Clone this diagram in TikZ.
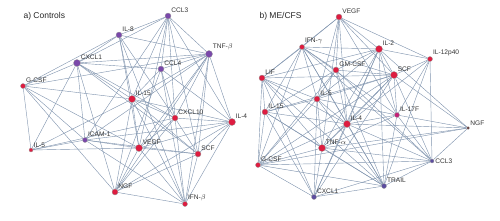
\documentclass[tikz,border=0pt]{standalone}
\usepackage{fontspec}
\setmainfont{Liberation Sans}
\usepackage{xcolor}
\usetikzlibrary{backgrounds}

\definecolor{cytred}{RGB}{222,28,64}
\definecolor{cytpurple}{RGB}{122,72,170}
\definecolor{cytblue}{RGB}{92,76,160}
\definecolor{cytmag}{RGB}{196,32,120}
\definecolor{cytdark}{RGB}{90,44,44}
\definecolor{linkcol}{RGB}{128,148,174}

\begin{document}
\begin{tikzpicture}[x=1pt, y=-1pt,
  cyt/.style={circle, draw=black!40, line width=0.3pt, inner sep=0pt, minimum size=#1,
    label distance=0pt},
  cyt/.default=6pt,
  lab/.style={font=\fontsize{6.6}{8}\selectfont, text=black!80, inner sep=1pt},
  link/.style={draw=linkcol, line width=0.42pt},
  panel/.style={font=\fontsize{8.5}{10}\selectfont, anchor=west, text=black!85}
]
\useasboundingbox (0,0) rectangle (500,220);

\node[panel] (ttla) at (20,16) {a) Controls};
\node[panel] (ttlb) at (256,16) {b) ME/CFS};

% a) controls
\node[cyt=6pt, fill=cytpurple, label={[lab]above right:CCL3}] (aCCL3) at (168,16) {};
\node[cyt=6pt, fill=cytpurple, label={[lab]above right:IL-8}] (aIL8) at (119,35) {};
\node[cyt=7pt, fill=cytpurple, label={[lab]above right:TNF-$\beta$}] (aTNFb) at (209,54) {};
\node[cyt=7pt, fill=cytpurple, label={[lab]above right:CXCL1}] (aCXCL1) at (77,63) {};
\node[cyt=6pt, fill=cytpurple, label={[lab]above right:CCL4}] (aCCL4) at (161,69) {};
\node[cyt=5pt, fill=cytred, label={[lab]above right:G-CSF}] (aGCSF) at (23,86) {};
\node[cyt=7pt, fill=cytred, label={[lab]above right:IL-15}] (aIL15) at (132,99) {};
\node[cyt=6pt, fill=cytred, label={[lab]above right:CXCL10}] (aCXCL10) at (175,118) {};
\node[cyt=7pt, fill=cytred, label={[lab]above right:IL-4}] (aIL4) at (232,122) {};
\node[cyt=5pt, fill=cytpurple, label={[lab]above right:ICAM-1}] (aICAM1) at (85,140) {};
\node[cyt=4pt, fill=cytred, label={[lab]above right:IL-5}] (aIL5) at (31,150) {};
\node[cyt=7pt, fill=cytred, label={[lab]above right:VEGF}] (aVEGF) at (139,148) {};
\node[cyt=6pt, fill=cytred, label={[lab]above right:SCF}] (aSCF) at (198,154) {};
\node[cyt=6pt, fill=cytred, label={[lab]above right:NGF}] (aNGF) at (115,192) {};
\node[cyt=5pt, fill=cytred, label={[lab]above right:IFN-$\beta$}] (aIFNb) at (185,204) {};

% b) ME/CFS
\node[cyt=6pt, fill=cytred, label={[lab]above right:VEGF}] (bVEGF) at (339,17) {};
\node[cyt=5pt, fill=cytred, label={[lab]above right:IFN-$\gamma$}] (bIFNg) at (302,47) {};
\node[cyt=7pt, fill=cytred, label={[lab]above right:IL-2}] (bIL2) at (379,49) {};
\node[cyt=5pt, fill=cytred, label={[lab]above right:IL-12p40}] (bIL12) at (430,59) {};
\node[cyt=6pt, fill=cytred, label={[lab]above right:LIF}] (bLIF) at (262,78) {};
\node[cyt=6pt, fill=cytred, label={[lab]above right:GM-CSF}] (bGMCSF) at (336,70) {};
\node[cyt=7pt, fill=cytred, label={[lab]above right:SCF}] (bSCF) at (394,75) {};
\node[cyt=6pt, fill=cytred, label={[lab]above right:IL-5}] (bIL5) at (317,99) {};
\node[cyt=6pt, fill=cytred, label={[lab]above right:IL-15}] (bIL15) at (265,112) {};
\node[cyt=5pt, fill=cytmag, label={[lab]above right:IL-17F}] (bIL17F) at (397,115) {};
\node[cyt=7pt, fill=cytred, label={[lab]above right:IL-4}] (bIL4) at (347,124) {};
\node[cyt=3pt, fill=cytdark, label={[lab]above right:NGF}] (bNGF) at (468,128) {};
\node[cyt=7pt, fill=cytred, label={[lab]above right:TNF-$\alpha$}] (bTNFa) at (322,148) {};
\node[cyt=5pt, fill=cytred, label={[lab]above right:G-CSF}] (bGCSF) at (258,165) {};
\node[cyt=4pt, fill=cytblue, label={[lab]right:CCL3}] (bCCL3) at (432,161) {};
\node[cyt=5pt, fill=cytblue, label={[lab]above right:TRAIL}] (bTRAIL) at (384,186) {};
\node[cyt=5pt, fill=cytblue, label={[lab]above right:CXCL1}] (bCXCL1) at (314,197) {};

\begin{scope}[on background layer]
% links, controls
\foreach \s/\tl in {aCCL3/{aIL8,aCXCL1,aTNFb,aCCL4,aCXCL10,aIL15,aIL4,aSCF,aVEGF,aICAM1},
  aIL8/{aCXCL1,aTNFb,aCXCL10,aIL15,aVEGF,aIFNb,aGCSF},
  aTNFb/{aCXCL1,aCCL4,aIL15,aIL4,aSCF,aVEGF,aNGF,aCXCL10,aIFNb,aGCSF,aICAM1},
  aCXCL1/{aCCL4,aGCSF,aIL15,aICAM1,aIL5,aNGF,aCXCL10,aSCF},
  aCCL4/{aCXCL10,aIL4,aIFNb,aIL15,aNGF},
  aGCSF/{aIL5,aNGF,aICAM1,aIL15,aVEGF},
  aIL15/{aCXCL10,aIL4,aVEGF,aNGF,aIFNb,aIL5,aSCF},
  aCXCL10/{aIL4,aSCF,aVEGF,aIFNb,aIL5,aNGF},
  aIL4/{aVEGF,aSCF,aNGF,aIFNb,aICAM1},
  aICAM1/{aVEGF,aSCF,aIL5,aIFNb},
  aIL5/{aVEGF},
  aVEGF/{aSCF,aNGF,aIFNb},
  aSCF/{aNGF,aIFNb},
  aNGF/{aIFNb}}
  \foreach \t in \tl \draw[link] (\s) -- (\t);
% links, ME/CFS
\foreach \s/\tl in {bVEGF/{bIFNg,bIL2,bIL12,bLIF,bGMCSF,bSCF,bIL5,bIL4,bTNFa,bIL17F},
  bIFNg/{bIL2,bLIF,bSCF,bGMCSF,bIL15,bIL5,bIL4,bCCL3,bTRAIL,bGCSF,bIL17F},
  bIL2/{bIL12,bLIF,bGMCSF,bSCF,bIL5,bIL4,bTNFa,bIL17F,bCXCL1,bTRAIL,bNGF},
  bIL12/{bSCF,bIL17F,bCCL3,bIL4,bTRAIL},
  bLIF/{bSCF,bIL15,bGCSF,bIL5,bTNFa,bIL4,bTRAIL,bCXCL1},
  bGMCSF/{bIL5,bIL4,bCCL3,bTRAIL,bSCF,bGCSF,bIL15},
  bSCF/{bIL5,bIL4,bIL17F,bNGF,bCCL3,bTNFa,bCXCL1,bIL15,bGCSF},
  bIL5/{bIL15,bIL4,bTNFa,bGCSF,bTRAIL,bCXCL1,bIL17F},
  bIL15/{bTNFa,bGCSF,bCXCL1,bIL4,bTRAIL},
  bIL17F/{bIL4,bNGF,bCCL3,bTRAIL,bTNFa},
  bIL4/{bNGF,bTNFa,bGCSF,bCXCL1,bTRAIL,bCCL3},
  bNGF/{bCCL3,bTNFa,bGCSF},
  bTNFa/{bGCSF,bCXCL1,bTRAIL,bCCL3},
  bGCSF/{bCXCL1,bTRAIL,bCCL3},
  bCCL3/{bTRAIL,bCXCL1},
  bTRAIL/{bCXCL1}}
  \foreach \t in \tl \draw[link] (\s) -- (\t);
\end{scope}
\end{tikzpicture}
\end{document}
